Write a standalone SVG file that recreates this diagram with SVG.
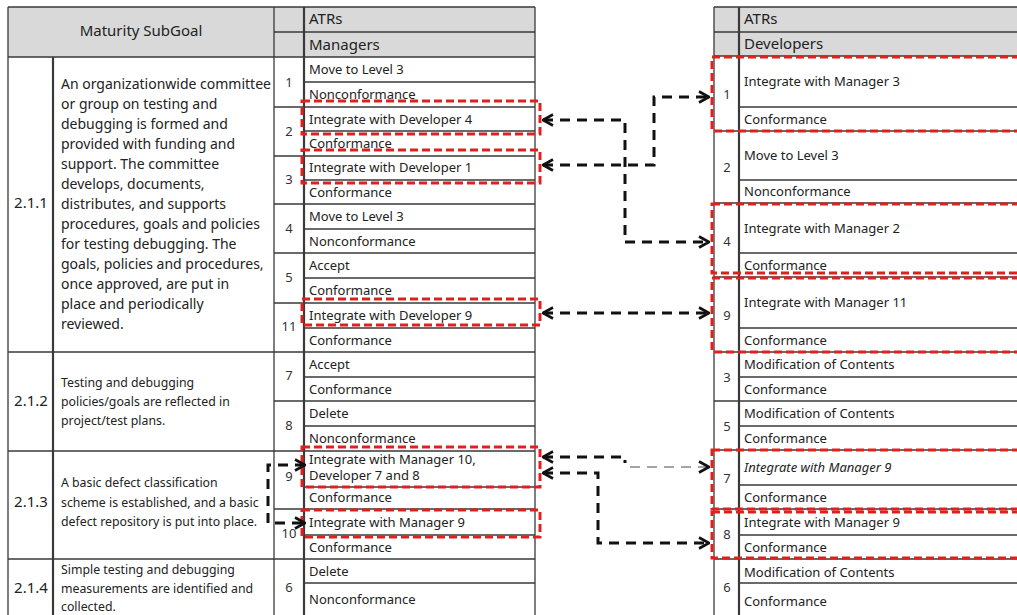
<svg xmlns="http://www.w3.org/2000/svg" width="1017" height="615" viewBox="0 0 1017 615">
<defs>
<style>
.bg{fill:#fff}
.hd{fill:#d9d9d9}
.g{stroke:#3a3a3a;stroke-width:1.3;fill:none}
.gb{stroke:#3a3a3a;stroke-width:2.2;fill:none}
.t{font-family:"Noto Sans","DejaVu Sans",sans-serif;font-size:13px;fill:#222}
.d{font-family:"Noto Sans","DejaVu Sans",sans-serif;font-size:14px;fill:#222}
.d2{font-family:"Noto Sans","DejaVu Sans",sans-serif;font-size:12.3px;fill:#222}
.h{font-family:"Noto Sans","DejaVu Sans",sans-serif;font-size:15px;fill:#222}
.n{font-family:"Noto Sans","DejaVu Sans",sans-serif;font-size:13px;fill:#333;text-anchor:middle}
.s{font-family:"Noto Sans","DejaVu Sans",sans-serif;font-size:15px;fill:#222;text-anchor:middle}
.hl{fill:none;stroke:#e0201e;stroke-width:3;stroke-dasharray:8 4}
.c{fill:none;stroke:#111;stroke-width:3;stroke-dasharray:10 7}
.cg{fill:none;stroke:#888;stroke-width:1.3;stroke-dasharray:10 7}
</style>
<marker id="arr" viewBox="0 0 12 14" refX="11" refY="7" markerWidth="12" markerHeight="14" markerUnits="userSpaceOnUse" orient="auto-start-reverse">
<path d="M1,1.5 L11,7 L1,12.5" fill="none" stroke="#111" stroke-width="2.6"/>
</marker>
</defs>
<rect class="bg" x="0" y="0" width="1017" height="615"/>

<g id="left-table">
<rect class="hd" x="8" y="7" width="527" height="50"/>
<path class="g" d="M8,7 H535 M274,32 H535 M8,57 H535
M304,82 H535 M274,107 H535 M304,131 H535 M274,156 H535 M304,180 H535 M274,204 H535 M304,229 H535 M274,253 H535 M304,278 H535 M274,303 H535 M304,328 H535
M8,352 H535 M304,377 H535 M274,401 H535 M304,426 H535
M8,451 H535 M304,487 H535 M274,509 H535 M304,535 H535
M8,559 H535 M304,583 H535
M8,7 V615 M274,7 V615 M535,7 V615"/>
<path class="gb" d="M53,57 V615 M304,7 V615"/>
<text class="h" x="141" y="36" text-anchor="middle" font-size="16">Maturity SubGoal</text>
<text class="h" x="309" y="24">ATRs</text>
<text class="h" x="309" y="50">Managers</text>
</g>

<g id="goal-2-1-1">
<text class="s" x="31" y="208">2.1.1</text>
<text class="d" x="61" y="89">An organizationwide committee</text>
<text class="d" x="61" y="109">or group on testing and</text>
<text class="d" x="61" y="129">debugging is formed and</text>
<text class="d" x="61" y="149">provided with funding and</text>
<text class="d" x="61" y="169">support. The committee</text>
<text class="d" x="61" y="189">develops, documents,</text>
<text class="d" x="61" y="209">distributes, and supports</text>
<text class="d" x="61" y="229">procedures, goals and policies</text>
<text class="d" x="61" y="249">for testing debugging. The</text>
<text class="d" x="61" y="269">goals, policies and procedures,</text>
<text class="d" x="61" y="289">once approved, are put in</text>
<text class="d" x="61" y="309">place and periodically</text>
<text class="d" x="61" y="329">reviewed.</text>
</g>
<g id="goal-2-1-2">
<text class="s" x="31" y="406">2.1.2</text>
<text class="d2" x="61" y="387">Testing and debugging</text>
<text class="d2" x="61" y="406">policies/goals are reflected in</text>
<text class="d2" x="61" y="425">project/test plans.</text>
</g>
<g id="goal-2-1-3">
<text class="s" x="31" y="507">2.1.3</text>
<text class="d2" x="61" y="487">A basic defect classification</text>
<text class="d2" x="61" y="507">scheme is established, and a basic</text>
<text class="d2" x="61" y="526">defect repository is put into place.</text>
</g>
<g id="goal-2-1-4">
<text class="s" x="31" y="593">2.1.4</text>
<text class="d2" x="61" y="574">Simple testing and debugging</text>
<text class="d2" x="61" y="593">measurements are identified and</text>
<text class="d2" x="61" y="611">collected.</text>
</g>

<g id="mgr-1"><text class="n" x="289" y="87">1</text><text class="t" x="309" y="74">Move to Level 3</text><text class="t" x="309" y="99">Nonconformance</text></g>
<g id="mgr-2"><text class="n" x="289" y="136">2</text><text class="t" x="309" y="124">Integrate with Developer 4</text><text class="t" x="309" y="148">Conformance</text><rect class="hl" x="302" y="101" width="238" height="33"/></g>
<g id="mgr-3"><text class="n" x="289" y="184">3</text><text class="t" x="309" y="172">Integrate with Developer 1</text><text class="t" x="309" y="197">Conformance</text><rect class="hl" x="302" y="150" width="238" height="33"/></g>
<g id="mgr-4"><text class="n" x="289" y="233">4</text><text class="t" x="309" y="221">Move to Level 3</text><text class="t" x="309" y="246">Nonconformance</text></g>
<g id="mgr-5"><text class="n" x="289" y="282">5</text><text class="t" x="309" y="270">Accept</text><text class="t" x="309" y="295">Conformance</text></g>
<g id="mgr-11"><text class="n" x="289" y="331" fill="#888">11</text><text class="t" x="309" y="320">Integrate with Developer 9</text><text class="t" x="309" y="345">Conformance</text><rect class="hl" x="302" y="299" width="238" height="26"/></g>
<g id="mgr-7"><text class="n" x="289" y="380">7</text><text class="t" x="309" y="369">Accept</text><text class="t" x="309" y="394">Conformance</text></g>
<g id="mgr-8"><text class="n" x="289" y="430">8</text><text class="t" x="309" y="418">Delete</text><text class="t" x="309" y="443">Nonconformance</text></g>
<g id="mgr-9"><text class="n" x="289" y="481">9</text><text class="t" x="309" y="464" font-size="11.5">Integrate with Manager 10,</text><text class="t" x="309" y="480" font-size="11.5">Developer 7 and 8</text><text class="t" x="309" y="502">Conformance</text><rect class="hl" x="302" y="447" width="238" height="40"/></g>
<g id="mgr-10"><text class="n" x="289" y="538" fill="#665">10</text><text class="t" x="309" y="527">Integrate with Manager 9</text><text class="t" x="309" y="552">Conformance</text><rect class="hl" x="302" y="510" width="238" height="27"/></g>
<g id="mgr-6"><text class="n" x="289" y="592">6</text><text class="t" x="309" y="576">Delete</text><text class="t" x="309" y="604">Nonconformance</text></g>

<g id="right-table">
<rect class="hd" x="714" y="7" width="303" height="49"/>
<path class="g" d="M714,7 H1017 M714,32 H1017 M714,56 H1017
M739,107 H1017 M714,131 H1017 M739,180 H1017 M714,203 H1017 M739,253 H1017 M714,277 H1017 M739,328 H1017 M714,352 H1017
M739,377 H1017 M714,401 H1017 M739,426 H1017 M714,450 H1017 M739,485 H1017 M714,509 H1017 M739,535 H1017 M714,559 H1017 M739,583 H1017
M714,7 V615"/>
<path class="gb" d="M739,7 V615"/>
<text class="h" x="744" y="24">ATRs</text>
<text class="h" x="744" y="49">Developers</text>
</g>

<g id="dev-1"><text class="n" x="727" y="99">1</text><text class="t" x="744" y="86">Integrate with Manager 3</text><text class="t" x="744" y="124">Conformance</text><rect class="hl" x="712" y="57" width="310" height="74"/></g>
<g id="dev-2"><text class="n" x="727" y="172">2</text><text class="t" x="744" y="160">Move to Level 3</text><text class="t" x="744" y="196">Nonconformance</text></g>
<g id="dev-4"><text class="n" x="727" y="246">4</text><text class="t" x="744" y="233">Integrate with Manager 2</text><text class="t" x="744" y="270">Conformance</text><rect class="hl" x="712" y="204" width="310" height="69"/></g>
<g id="dev-9"><text class="n" x="727" y="320">9</text><text class="t" x="744" y="307">Integrate with Manager 11</text><text class="t" x="744" y="345">Conformance</text><rect class="hl" x="712" y="278" width="310" height="74"/></g>
<g id="dev-3"><text class="n" x="727" y="382">3</text><text class="t" x="744" y="369">Modification of Contents</text><text class="t" x="744" y="394">Conformance</text></g>
<g id="dev-5"><text class="n" x="727" y="431">5</text><text class="t" x="744" y="418">Modification of Contents</text><text class="t" x="744" y="443">Conformance</text></g>
<g id="dev-7"><text class="n" x="727" y="483">7</text><text class="t" x="744" y="472" font-size="11.5" font-style="italic" fill="#333">Integrate with Manager 9</text><text class="t" x="744" y="502">Conformance</text><rect class="hl" x="712" y="450" width="310" height="59"/></g>
<g id="dev-8"><text class="n" x="727" y="539">8</text><text class="t" x="744" y="527">Integrate with Manager 9</text><text class="t" x="744" y="552">Conformance</text><rect class="hl" x="712" y="512" width="310" height="46"/></g>
<g id="dev-6"><text class="n" x="727" y="592">6</text><text class="t" x="744" y="577">Modification of Contents</text><text class="t" x="744" y="606">Conformance</text></g>

<g id="connectors">
<path class="c" d="M543,120 H625 V242 H709" marker-start="url(#arr)" marker-end="url(#arr)"/>
<path class="c" d="M543,165 H654 V97 H709" marker-start="url(#arr)" marker-end="url(#arr)"/>
<path class="c" d="M543,313 H709" marker-start="url(#arr)" marker-end="url(#arr)"/>
<path class="c" d="M543,457 H625 V463" marker-start="url(#arr)"/>
<path class="cg" d="M630,467 H709" marker-end="url(#arr)"/>
<path class="c" d="M543,473 H598 V543 H709" marker-start="url(#arr)" marker-end="url(#arr)"/>
<path class="c" d="M305,465 H268 V523 H305" marker-start="url(#arr)" marker-end="url(#arr)"/>
</g>
</svg>
